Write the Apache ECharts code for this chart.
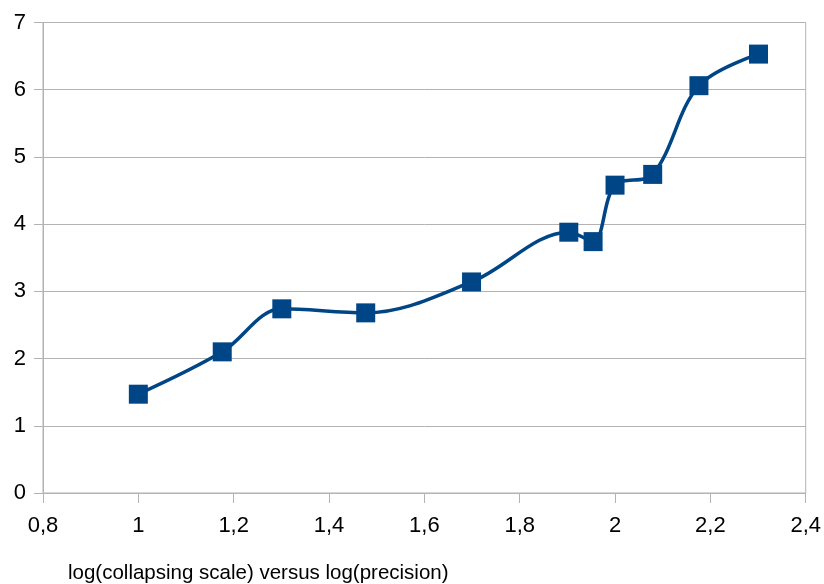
<!DOCTYPE html>
<html>
<head>
<meta charset="utf-8">
<script src="https://cdn.jsdelivr.net/npm/echarts@6/dist/echarts.min.js"></script>
<style>
html,body{margin:0;padding:0;background:#fff;}
#c{width:824px;height:584px;}
</style>
</head>
<body>
<div id="c"></div>
<script>
const xValues = [1.000, 1.176, 1.301, 1.477, 1.699, 1.903, 1.954, 2.000, 2.079, 2.176, 2.301];
const yValues = [1.47, 2.10, 2.74, 2.68, 3.14, 3.88, 3.74, 4.58, 4.74, 6.06, 6.53];
const xTicks = [0.8, 1.0, 1.2, 1.4, 1.6, 1.8, 2.0, 2.2, 2.4];
const yTicks = [0, 1, 2, 3, 4, 5, 6, 7];
const titleText = 'log(collapsing scale) versus log(precision)';

const points = xValues.map((x, i) => [x, yValues[i]]);
const fmt = v => String(Math.round(v * 10) / 10).replace('.', ',');
const FONT = "'Liberation Sans', Arial, sans-serif";

const chart = echarts.init(document.getElementById('c'));
chart.setOption({
  animation: false,
  backgroundColor: '#ffffff',
  title: {
    text: titleText,
    left: 68,
    top: 563,
    padding: 0,
    textStyle: { fontFamily: FONT, fontSize: 20.5, fontWeight: 'normal', color: '#000' }
  },
  grid: {
    left: 43, right: 16, top: 22.5, bottom: 91,
    show: true, borderColor: '#b3b3b3', borderWidth: 1, backgroundColor: 'transparent'
  },
  xAxis: {
    type: 'value',
    min: xTicks[0], max: xTicks[xTicks.length - 1], interval: 0.2,
    axisLine: { show: true, lineStyle: { color: '#b3b3b3', width: 1 } },
    axisTick: { show: true, length: 10, inside: false, lineStyle: { color: '#b3b3b3' } },
    splitLine: { show: false },
    axisLabel: { formatter: fmt, fontFamily: FONT, fontSize: 22, color: '#000', margin: 22 }
  },
  yAxis: {
    type: 'value',
    min: yTicks[0], max: yTicks[yTicks.length - 1], interval: 1,
    axisLine: { show: true, lineStyle: { color: '#b3b3b3', width: 1 } },
    axisTick: { show: true, length: 9, inside: false, lineStyle: { color: '#b3b3b3' } },
    splitLine: { show: true, lineStyle: { color: '#b3b3b3', width: 1 } },
    axisLabel: { fontFamily: FONT, fontSize: 22, color: '#000', margin: 17 }
  },
  series: [{
    type: 'line',
    data: points,
    smooth: 0.35,
    symbol: 'rect',
    symbolSize: 19,
    lineStyle: { color: '#004586', width: 3.5 },
    itemStyle: { color: '#004586' }
  }]
});
</script>
</body>
</html>
